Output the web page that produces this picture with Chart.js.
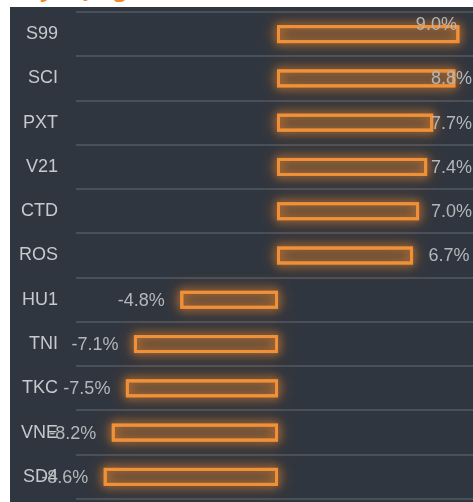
<!DOCTYPE html>
<html>
<head>
<meta charset="utf-8">
<script src="https://cdn.jsdelivr.net/npm/chart.js@4.4.1/dist/chart.umd.min.js"></script>
<style>
  html, body { margin: 0; padding: 0; background: #ffffff; overflow: hidden; width: 473px; height: 502px; }
  #title { position: absolute; left: 10px; top: -25px; font-family: "Liberation Sans", Arial, sans-serif; font-weight: bold; font-style: italic; font-size: 26px; line-height: 26px; color: #f28a2e; white-space: nowrap; }
  #panel { position: absolute; left: 10px; top: 7px; width: 463px; height: 495px; background: #30363f; }
</style>
</head>
<body>
<div id="title">Xây dựng</div>
<div id="panel"><canvas id="c" width="463" height="495"></canvas></div>
<script>
const categories = ["S99", "SCI", "PXT", "V21", "CTD", "ROS", "HU1", "TNI", "TKC", "VNE", "SD4"];
const changes = [9.0, 8.8, 7.7, 7.4, 7.0, 6.7, -4.8, -7.1, -7.5, -8.2, -8.6];
const xMin = -10;
const xMax = 9.7;

const FONT = '"Liberation Sans", Arial, sans-serif';

const glow = {
  id: 'glow',
  beforeDatasetDraw(chart) {
    const ctx = chart.ctx;
    const meta = chart.getDatasetMeta(0);
    ctx.save();
    ctx.shadowColor = 'rgba(255,140,40,1)';
    ctx.strokeStyle = 'rgba(240,145,58,0.9)';
    ctx.lineWidth = 3;
    [16, 8].forEach(blur => {
      ctx.shadowBlur = blur;
      meta.data.forEach(bar => {
        const l = Math.min(bar.x, bar.base), r = Math.max(bar.x, bar.base);
        const t = bar.y - bar.height / 2, h = bar.height;
        ctx.strokeRect(l + 1, t + 1, r - l - 2, h - 2);
      });
    });
    ctx.restore();
  }
};

const valueLabels = {
  id: 'valueLabels',
  afterDatasetsDraw(chart) {
    const ctx = chart.ctx;
    const meta = chart.getDatasetMeta(0);
    const data = chart.data.datasets[0].data;
    const maxV = Math.max(...data);
    const limit = chart.width - 1;
    ctx.save();
    ctx.font = '18px ' + FONT;
    ctx.fillStyle = '#b3b7bb';
    ctx.textBaseline = 'middle';
    meta.data.forEach((bar, i) => {
      const v = data[i];
      const txt = v.toFixed(1) + '%';
      const w = ctx.measureText(txt).width;
      if (v >= 0) {
        if (v === maxV) {
          ctx.textAlign = 'right';
          ctx.fillText(txt, bar.x - 2, bar.y - 9);
        } else {
          let x = bar.x + 16;
          if (x + w > limit) x = limit - w;
          ctx.textAlign = 'left';
          ctx.fillText(txt, x, bar.y + 1);
        }
      } else {
        ctx.textAlign = 'right';
        ctx.fillText(txt, bar.x - 16, bar.y + 1);
      }
    });
    ctx.restore();
  }
};

new Chart(document.getElementById('c'), {
  type: 'bar',
  data: {
    labels: categories,
    datasets: [{
      data: changes,
      backgroundColor: 'rgba(240,145,58,0.10)',
      borderColor: '#f0913a',
      borderWidth: 2,
      borderSkipped: false,
      barThickness: 17
    }]
  },
  options: {
    indexAxis: 'y',
    responsive: false,
    animation: false,
    layout: { padding: { top: 5, bottom: 3, left: 0, right: 0 } },
    plugins: { legend: { display: false }, tooltip: { enabled: false }, title: { display: false } },
    scales: {
      x: { display: false, min: xMin, max: xMax },
      y: {
        afterFit(scale) { scale.width = 66; scale.paddingTop = 0; scale.paddingBottom = 0; },
        border: { display: false },
        grid: { color: 'rgba(255,255,255,0.13)', lineWidth: 2, drawTicks: false, offset: true },
        ticks: { color: '#c6c9cd', padding: 18, font: { size: 18, family: FONT } }
      }
    }
  },
  plugins: [glow, valueLabels]
});
</script>
</body>
</html>
